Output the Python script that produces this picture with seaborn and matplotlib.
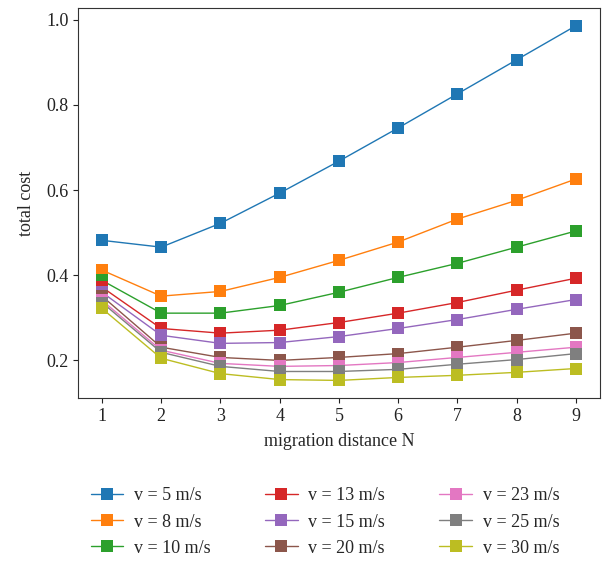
import pandas as pd
import matplotlib
matplotlib.use('Agg')
import matplotlib.pyplot as plt
import seaborn as sns

# migration distance N on the x axis
distances = [1, 2, 3, 4, 5, 6, 7, 8, 9]
speeds = ['v = 5 m/s', 'v = 8 m/s', 'v = 10 m/s', 'v = 13 m/s', 'v = 15 m/s',
          'v = 20 m/s', 'v = 23 m/s', 'v = 25 m/s', 'v = 30 m/s']

cost_v5 = [0.482, 0.466, 0.522, 0.593, 0.668, 0.746, 0.826, 0.906, 0.986]
cost_v8 = [0.412, 0.351, 0.362, 0.395, 0.435, 0.478, 0.532, 0.576, 0.626]
cost_v10 = [0.388, 0.311, 0.311, 0.329, 0.360, 0.395, 0.428, 0.466, 0.504]
cost_v13 = [0.372, 0.275, 0.264, 0.271, 0.289, 0.311, 0.336, 0.365, 0.393]
cost_v15 = [0.360, 0.259, 0.240, 0.242, 0.256, 0.275, 0.296, 0.320, 0.343]
cost_v20 = [0.351, 0.231, 0.207, 0.200, 0.207, 0.216, 0.231, 0.247, 0.264]
cost_v23 = [0.341, 0.224, 0.193, 0.186, 0.188, 0.195, 0.207, 0.219, 0.231]
cost_v25 = [0.336, 0.219, 0.186, 0.174, 0.174, 0.179, 0.191, 0.202, 0.216]
cost_v30 = [0.322, 0.205, 0.169, 0.155, 0.153, 0.160, 0.165, 0.172, 0.181]

all_costs = [cost_v5, cost_v8, cost_v10, cost_v13, cost_v15,
             cost_v20, cost_v23, cost_v25, cost_v30]

# build long-form table for seaborn
rows = []
for label, costs in zip(speeds, all_costs):
    for n, c in zip(distances, costs):
        rows.append({'N': n, 'cost': c, 'speed': label})
df = pd.DataFrame(rows)

sns.set_style('ticks')
plt.rcParams['font.family'] = ['Liberation Serif', 'DejaVu Serif']
plt.rcParams['font.size'] = 13

fig = plt.figure(figsize=(6.02, 5.61), dpi=100)
ax = fig.add_axes([0.13, 0.29, 0.866, 0.696])

sns.lineplot(data=df, x='N', y='cost', hue='speed', hue_order=speeds,
             palette='tab10', marker='s', markersize=9, markeredgewidth=0,
             linewidth=1, ax=ax)

ax.set_xlim(0.6, 9.4)
ax.set_ylim(0.111, 1.028)
ax.set_xticks(distances)
ax.set_yticks([0.2, 0.4, 0.6, 0.8, 1.0])
ax.set_yticklabels(['0.2', '0.4', '0.6', '0.8', '1.0'])
ax.set_xlabel('migration distance N', fontsize=13, labelpad=6)
ax.set_ylabel('total cost', fontsize=13, labelpad=8)
ax.tick_params(labelsize=13, colors='#222222')
for sp in ax.spines.values():
    sp.set_color('#333333')

handles, labels = ax.get_legend_handles_labels()
ax.legend(handles, labels, ncol=3, frameon=False, loc='upper center',
          bbox_to_anchor=(0.54, 0.16), bbox_transform=fig.transFigure,
          fontsize=13, columnspacing=3.0, handlelength=1.8, handletextpad=0.6,
          labelspacing=0.5)

fig.savefig('out.png', dpi=100)
